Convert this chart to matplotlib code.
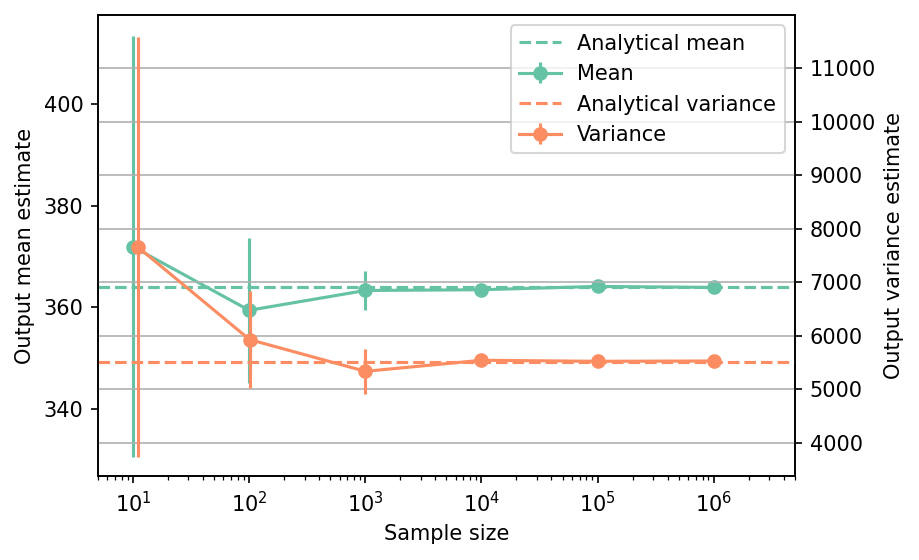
import matplotlib
matplotlib.use("Agg")
import matplotlib.pyplot as plt
import numpy as np

sample_sizes = [10, 100, 1000, 10000, 100000, 1000000]
mean_est = [371.9, 359.4, 363.3, 363.45, 364.1, 363.9]
mean_err = [41.4, 14.3, 3.85, 0.3, 0.1, 0.05]
var_est = [7659, 5930, 5338, 5544, 5525, 5531]
var_err = [3920, 911, 415, 60, 20, 6]
analytical_mean = 363.9
analytical_var = 5519

green = "#66c2a5"
orange = "#fc8d62"

fig = plt.figure(figsize=(919 / 150, 560 / 150), dpi=150)
ax = fig.add_axes([98 / 919, 1 - 476 / 560, (795 - 98) / 919, (476 - 15) / 560])
ax2 = ax.twinx()

ax2.yaxis.grid(True, color="#b0b0b0", linewidth=0.8)

h1 = ax.axhline(analytical_mean, color=green, linestyle="--", label="Analytical mean")
h2 = ax.errorbar(sample_sizes, mean_est, yerr=mean_err, color=green, marker="o",
                 label="Mean")
h3 = ax2.axhline(analytical_var, color=orange, linestyle="--", label="Analytical variance")
h4 = ax2.errorbar(np.array(sample_sizes) + 1, var_est, yerr=var_err, color=orange,
                  marker="o", label="Variance")

ax.set_xscale("log")
ax.set_xlim(5, 5e6)
ax.set_ylim(326.8, 417.5)
ax2.set_ylim(3384, 11989)
ax.set_xlabel("Sample size")
ax.set_ylabel("Output mean estimate")
ax2.set_ylabel("Output variance estimate")

ax2.legend([h1, h2, h3, h4],
           ["Analytical mean", "Mean", "Analytical variance", "Variance"],
           loc="upper right")

fig.savefig("out.png", dpi=150)
